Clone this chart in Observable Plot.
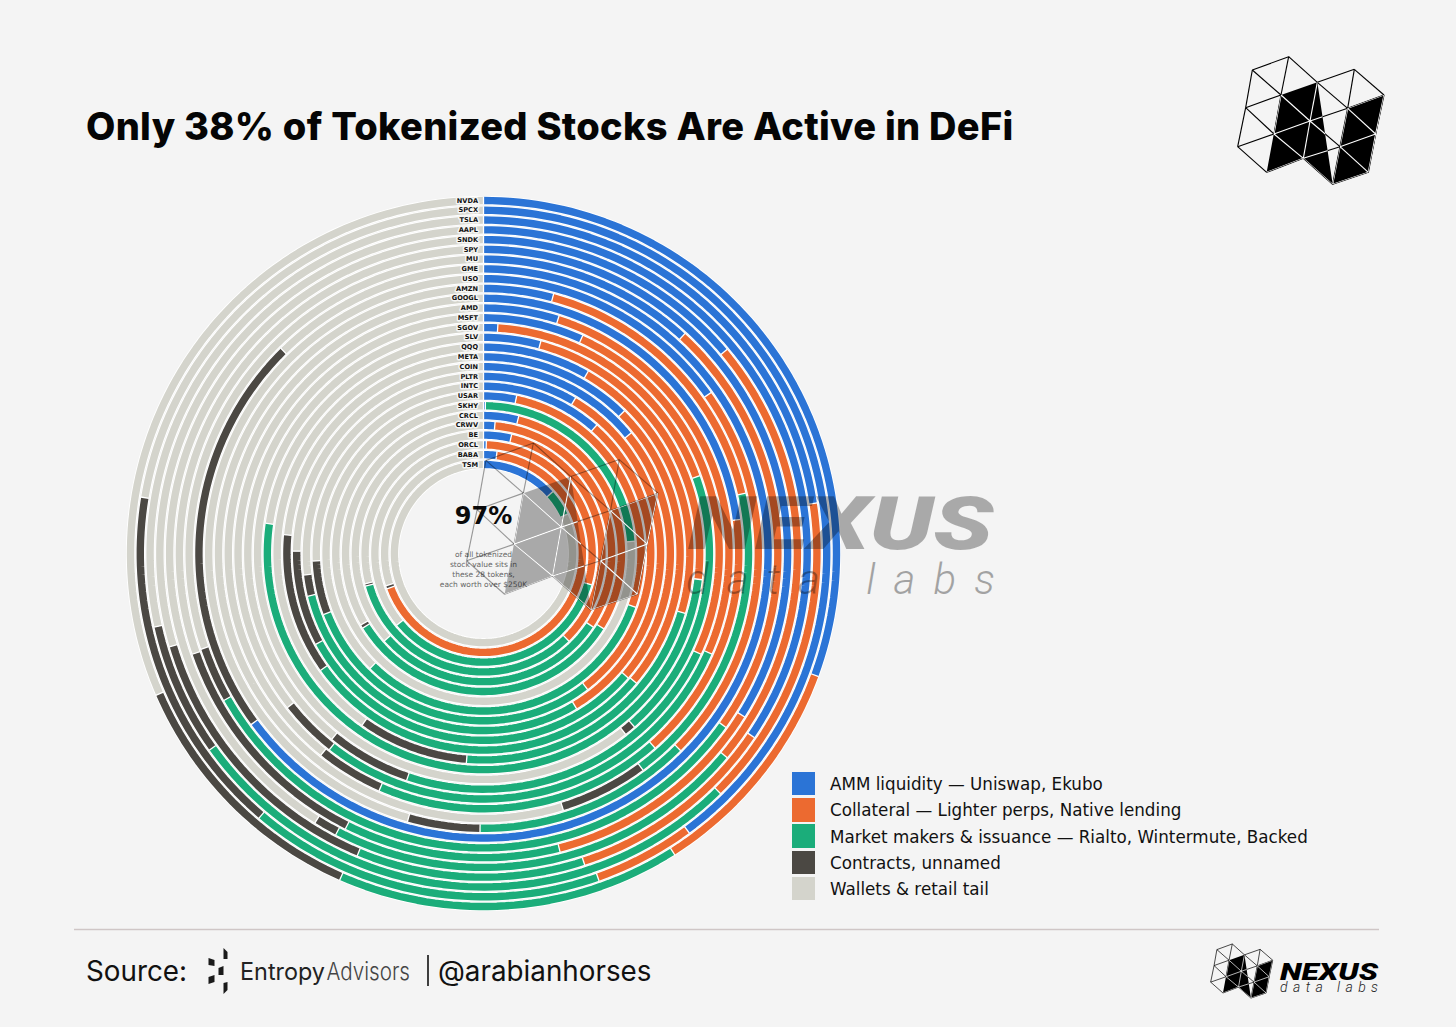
<!DOCTYPE html>
<html><head><meta charset="utf-8">
<script src="https://cdn.jsdelivr.net/npm/d3@7"></script>
<script src="https://cdn.jsdelivr.net/npm/@observablehq/plot@0.6"></script>
<style>
html,body{margin:0;padding:0;background:#f4f4f4;}
#page{position:relative;width:1456px;height:1027px;overflow:hidden;background:#f4f4f4;}
#chart{position:absolute;left:102.5px;top:173px;width:760px;height:760px;}
#chart svg{background:transparent;}
#title{position:absolute;left:86px;top:102px;margin:0;font:800 38px/48px Inter,sans-serif;color:#050505;white-space:nowrap;letter-spacing:0.3px;}
#legend{position:absolute;left:792px;top:772px;font:16.75px "DejaVu Sans",sans-serif;color:#111;}
#legend div{display:flex;align-items:center;height:23.4px;margin-bottom:2.8px;white-space:nowrap;}
#legend i{display:block;width:23px;height:23.4px;margin-right:15px;}
#legend span{position:relative;top:.6px;}
#overlay{position:absolute;left:0;top:0;pointer-events:none;}
#src{position:absolute;left:86px;top:953px;font:400 27.8px/36px Inter,sans-serif;color:#111;white-space:nowrap;}
#handle{position:absolute;left:438px;top:953px;font:400 27.8px/36px Inter,sans-serif;color:#111;white-space:nowrap;}
</style></head>
<body><div id="page">
<h1 id="title">Only 38% of Tokenized Stocks Are Active in DeFi</h1>
<div id="chart"></div>
<div id="legend"></div>
<div id="src">Source:</div>
<div id="handle">@arabianhorses</div>
</div>
<script>
const tokens = ["NVDA","SPCX","TSLA","AAPL","SNDK","SPY","MU","GME","USO","AMZN","GOOGL","AMD","MSFT","SGOV","SLV","QQQ","META","COIN","PLTR","INTC","USAR","SKHY","CRCL","CRWV","BE","ORCL","BABA","TSM"];
const amm        = [30.6,39.9,22.6,34.5,13.9,33.9,11.8,64.9,15.2,4.2,22.9,4.9,6.8,1.0,4.2,8.3,12.4,14.1,8.5,11.5,3.3,0.2,4.0,1.4,3.7,0.4,2.1,13.4];
const collateral = [10.4,4.7,15.0,10.5,22.2,12.1,23.1,0,22.3,17.2,15.6,26.7,25.1,18.5,22.7,21.3,23.8,22.2,32.9,28.1,27.1,0,29.9,33.0,34.0,29.1,67.3,0];
const makers     = [15.6,16.6,27.5,11.3,21.6,11.4,31.9,0,12.7,18.5,18.1,29.0,23.3,19.1,50.3,21.7,28.9,30.8,29.8,29.6,32.0,23.5,32.3,29.1,33.0,34.5,0,4.6];
const contracts  = [11.9,16.4,6.4,14.1,1.2,12.3,3.0,22.7,4.2,5.3,4.2,3.8,5.7,0.8,0,8.5,11.4,8.1,1.9,5.1,0,0,0.4,0,0.3,0,0.5,0];
const wallets    = [31.5,22.4,28.5,29.6,41.1,30.3,30.2,12.4,45.6,54.8,39.2,35.6,39.1,60.6,22.8,40.2,23.5,24.8,26.9,25.7,37.6,76.3,33.4,36.5,29.0,36.0,30.1,82.0];
const categories = ["AMM liquidity — Uniswap, Ekubo","Collateral — Lighter perps, Native lending","Market makers & issuance — Rialto, Wintermute, Backed","Contracts, unnamed","Wallets & retail tail"];
const colors = ["#2b74d6","#ec6a30","#1bad7a","#4b4843","#d4d4cc"];
const centerLines = ["of all tokenized","stock value sits in","these 28 tokens,","each worth over $250K"];

const outerR = 353, ringStep = 9.775, bandW = 7.4;
const radius = i => outerR - i * ringStep;
const polar = (pct, r) => { const a = pct / 100 * 2 * Math.PI; return {x: r * Math.sin(a), y: r * Math.cos(a)}; };

const series = [amm, collateral, makers, contracts, wallets];
const points = [], edges = [];
tokens.forEach((tok, i) => {
  let acc = 0; const r = radius(i);
  series.forEach((vals, c) => {
    const v = vals[i];
    if (v <= 0) return;
    const s0 = acc, s1 = acc + v;
    const id = tok + c;
    const n = Math.max(2, Math.ceil(v / 0.4));
    for (let k = 0; k <= n; k++) {
      const p = polar(s0 + (s1 - s0) * k / n, r);
      points.push({id, cat: categories[c], x: p.x, y: p.y});
    }
    const a = polar(s0, r - bandW/2 - .4), b = polar(s0, r + bandW/2 + .4);
    edges.push({x1:a.x,y1:a.y,x2:b.x,y2:b.y});
    acc = s1;
  });
});
const labels = tokens.map((t, i) => ({t, r: radius(i)}));
const centerText = centerLines.map((t, i) => ({t, y: -1 - i * 10}));

const chart = Plot.plot({
  width: 760, height: 760, margin: 0,
  x: {domain: [-380, 380], axis: null},
  y: {domain: [-380, 380], axis: null},
  color: {domain: categories, range: colors},
  marks: [
    Plot.line(points, {x:"x", y:"y", z:"id", stroke:"#fff", strokeWidth:9.2, strokeLinecap:"butt"}),
    Plot.line(points, {x:"x", y:"y", z:"id", stroke:"cat", strokeWidth:bandW, strokeLinecap:"butt"}),
    Plot.link(edges, {x1:"x1", y1:"y1", x2:"x2", y2:"y2", stroke:"#fff", strokeWidth:1.3}),
    Plot.text(labels, {x:-5.5, y:"r", text:"t", textAnchor:"end", fontSize:6.6, fontWeight:700, fontFamily:"DejaVu Sans", fill:"#111", stroke:"#f6f6f4", strokeWidth:3}),
    Plot.text(["97%"], {x:0, y:37, text:d=>d, fontSize:24, fontWeight:700, fontFamily:"DejaVu Sans", fill:"#0a0a0a"}),
    Plot.text(centerText, {x:0, y:d=>d.y, text:"t", fontSize:7.5, fontFamily:"DejaVu Sans", fill:"#666"})
  ]
});
document.getElementById("chart").appendChild(chart);

const legend = d3.select("#legend").selectAll("div").data(categories).join("div");
legend.append("i").style("background", (d,i)=>colors[i]);
legend.append("span").text(d=>d);

// branding overlay
const P = {A:[157,90],B:[266,50],C:[352,127],D:[463,88],E:[552,165],F:[527,282],G:[505,397],H:[398,433],I:[310,355],J:[200,397],K:[113,320],L:[137,203],M:[243,165],N:[222,282],O:[330,243],Q2:[443,205],Q:[420,320]};
const meshEdges = "AB BC CD DE EF FG GH HI IJ JK KL LA AM BM LM LN KN MN NO NI MO OI OC OQ2 CQ2 DQ2 EQ2 Q2Q Q2F OQ QF QG QH QI".split(" ").map(s=>{const m=s.match(/Q2|[A-Z]/g);return [P[m[0]],P[m[1]]];});
const blackA = [P.M,P.C,P.H,P.I,P.J], blackB = [P.Q2,P.E,P.G,P.H];
const ov = d3.select("#page").append("svg").attr("id","overlay").attr("width",1456).attr("height",1027);
const defs = ov.append("defs");
const clip = defs.append("clipPath").attr("id","nclip");
[blackA,blackB].forEach(p=>clip.append("polygon").attr("points",p.join(" ")));
function logo(x0,y0,s,op){
  const g = ov.append("g").attr("transform",`translate(${x0},${y0}) scale(${s})`).attr("opacity",op);
  [blackA,blackB].forEach(p=>g.append("polygon").attr("points",p.join(" ")).attr("fill","#000"));
}
function mesh(x0,y0,s,sw,darkCol,darkOp){
  const g = ov.append("g").attr("transform",`translate(${x0},${y0}) scale(${s})`);
  const d = g.append("g").attr("stroke",darkCol).attr("stroke-opacity",darkOp).attr("stroke-width",sw).attr("fill","none");
  const w = g.append("g").attr("stroke","#fff").attr("stroke-width",sw).attr("clip-path","url(#nclip)");
  meshEdges.forEach(e=>{
    [d,w].forEach(t=>t.append("line").attr("x1",e[0][0]).attr("y1",e[0][1]).attr("x2",e[1][0]).attr("y2",e[1][1]));
  });
}
// watermark
logo(417.4,421.2,.436,.3);
mesh(417.4,421.2,.436,2.6,"#000",.38);
ov.append("text").attr("x",688).attr("y",549).attr("textLength",305).attr("lengthAdjust","spacingAndGlyphs")
  .attr("font-family","Roboto").attr("font-weight",900).attr("font-style","italic").attr("font-size",73).attr("fill","#000").attr("opacity",.3).text("NEXUS");
ov.append("text").attr("x",686).attr("y",594).attr("textLength",309).attr("lengthAdjust","spacing")
  .attr("font-family","Roboto").attr("font-weight",300).attr("font-style","italic").attr("font-size",42).attr("fill","#000").attr("opacity",.33).text("data labs");
// top logo
logo(1200,40,1/3,1);
mesh(1200,40,1/3,3.4,"#000",1);
// footer logo
logo(1194.7,936.9,.1413,1);
mesh(1194.7,936.9,.1413,5,"#000",1);
ov.append("text").attr("x",1280).attr("y",980).attr("textLength",98).attr("lengthAdjust","spacingAndGlyphs")
  .attr("font-family","Roboto").attr("font-weight",900).attr("font-style","italic").attr("font-size",24).attr("fill","#000").text("NEXUS");
ov.append("text").attr("x",1280).attr("y",992).attr("textLength",98).attr("lengthAdjust","spacing")
  .attr("font-family","Roboto").attr("font-weight",300).attr("font-style","italic").attr("font-size",14).attr("fill","#222").text("data labs");
// footer rule
ov.append("line").attr("x1",74).attr("x2",1379).attr("y1",929.5).attr("y2",929.5).attr("stroke","#cfc6c6").attr("stroke-width",1.3);
// entropy mark
[[[191,958],[197,960],[197,966],[191,965]],[[201,968],[206,966],[206,975],[201,975]],[[191,977],[197,975],[197,982],[191,984]],[[206,948],[210,952],[210,959],[206,959]],[[206,983],[210,982],[210,990],[206,994]]]
 .forEach(p=>ov.append("polygon").attr("points",p.map(q=>[q[0]+17.5,q[1]]).join(" ")).attr("fill","#1a1a1a"));
ov.append("text").attr("x",240).attr("y",980).attr("textLength",85).attr("lengthAdjust","spacingAndGlyphs").attr("font-family","Inter").attr("font-size",24).attr("fill","#222").text("Entropy");
ov.append("text").attr("x",326.5).attr("y",980).attr("textLength",83.5).attr("lengthAdjust","spacingAndGlyphs").attr("font-family","Inter").attr("font-weight",300).attr("font-size",24).attr("fill","#444").text("Advisors");
ov.append("line").attr("x1",428).attr("x2",428).attr("y1",955).attr("y2",986).attr("stroke","#111").attr("stroke-width",1.6);
</script>
</body></html>
